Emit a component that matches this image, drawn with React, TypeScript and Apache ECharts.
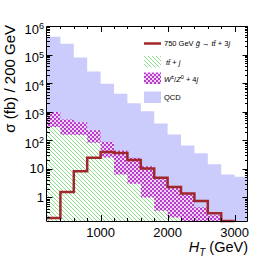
import React, { useEffect, useRef } from "react";
import * as echarts from "echarts";

// Bin lower edges (GeV), 200 GeV wide bins
const binStarts = [200, 400, 600, 800, 1000, 1200, 1400, 1600, 1800, 2000, 2200, 2400, 2600, 2800, 3000];
const binWidth = 200;
// cross sections (fb / 200 GeV) – visible tops of each filled histogram
const qcd = [4.2e5, 2.4e5, 7.9e4, 2.55e4, 9.5e3, 4.3e3, 2.0e3, 1.03e3, 390, 160, 66, 35, 14.5, 6.4, 5.3];
const wz = [980, 530, 430, 225, 89, 44, 24.5, 12.3, 4.3, 2.45, 1.3, 0.45, 0.24, 0.01, 0.01];
const ttj = [295, 158, 150, 82, 25, 6.4, 3.0, 1.0, 0.34, 0.2, 0.01, 0.01, 0.01, 0.01, 0.01];
const signal = [0.19, 1.55, 8.3, 24.5, 38.6, 36, 20.3, 10.4, 4.9, 2.3, 1.37, 0.75, 0.28, 0.15];

const yTickLabels = [1, 10, 100, 1e3, 1e4, 1e5, 1e6];
const xTickLabels = [1000, 2000, 3000];

const X_MIN = 200;
const X_MAX = 3200;
const Y_MIN = 0.15;
const Y_MAX = 1e6;

const FONT = "'Liberation Sans', Arial, Helvetica, sans-serif";
const RED = "#a0282c";
const LAVENDER = "#cbcbfc";

function stepData(vals: number[]) {
  const d: number[][] = vals.map((v, i) => [binStarts[i], v]);
  d.push([binStarts[vals.length - 1] + binWidth, vals[vals.length - 1]]);
  return d;
}

function makeHatch() {
  const n = 4;
  const c = document.createElement("canvas");
  c.width = n;
  c.height = n;
  const ctx = c.getContext("2d")!;
  ctx.fillStyle = "#ffffff";
  ctx.fillRect(0, 0, n, n);
  ctx.fillStyle = "#8ade8a";
  for (let i = 0; i < n; i++) ctx.fillRect(i, i, 1, 1);
  return { image: c.toDataURL(), repeat: "repeat", imageWidth: n, imageHeight: n };
}

function makeChecker() {
  const c = document.createElement("canvas");
  c.width = 4;
  c.height = 4;
  const ctx = c.getContext("2d")!;
  ctx.fillStyle = "#eed4f2";
  ctx.fillRect(0, 0, 4, 4);
  ctx.fillStyle = "#b83ccc";
  ctx.fillRect(0, 0, 2, 2);
  ctx.fillRect(2, 2, 2, 2);
  return { image: c.toDataURL(), repeat: "repeat", imageWidth: 4, imageHeight: 4 };
}

export default function App() {
  const ref = useRef<HTMLDivElement>(null);
  useEffect(() => {
    if (!ref.current) return;
    const chart = echarts.init(ref.current, null, { renderer: "svg" });
    const hatch = makeHatch();
    const checker = makeChecker();

    // tick descriptors: [x, y, length, kind] kind 0 = y tick, 1 = x tick
    const ticks: number[][] = [];
    for (let n = -1; n <= 5; n++) {
      for (let k = 1; k <= 9; k++) {
        const v = k * Math.pow(10, n);
        if (v < Y_MIN || v > Y_MAX) continue;
        ticks.push([1000, v, k === 1 ? 5.5 : 3, 0]);
      }
    }
    ticks.push([1000, Y_MAX, 5.5, 0]);
    for (let x = X_MIN + binWidth; x < X_MAX; x += binWidth) {
      ticks.push([x, 1, x % 1000 === 0 ? 6 : 3, 1]);
    }

    const areaSeries = (name: string, vals: number[], color: any) => ({
      name,
      type: "line",
      step: "end",
      data: stepData(vals),
      showSymbol: false,
      symbol: "none",
      lineStyle: { width: 0, opacity: 0 },
      areaStyle: { color, opacity: 1, origin: "start" },
      silent: true,
    });

    const option: any = {
      animation: false,
      grid: { left: 47, top: 26, width: 201, height: 195, show: false },
      xAxis: {
        type: "value",
        min: X_MIN,
        max: X_MAX,
        interval: binWidth,
        axisLine: { show: false },
        axisTick: { show: false },
        splitLine: { show: false },
        axisLabel: {
          margin: 5,
          fontSize: 13,
          fontFamily: FONT,
          color: "#000",
          formatter: (v: number) => (xTickLabels.indexOf(v) >= 0 ? String(v) : ""),
        },
      },
      yAxis: {
        type: "log",
        min: Y_MIN,
        max: Y_MAX,
        axisLine: { show: false },
        axisTick: { show: false },
        splitLine: { show: false },
        axisLabel: {
          margin: 3,
          fontSize: 13,
          fontFamily: FONT,
          color: "#000",
          formatter: (v: number) => {
            const e = Math.round(Math.log10(v));
            const ok = yTickLabels.some((t) => Math.abs(t - v) / t < 1e-6);
            if (!ok) return "";
            if (e === 0) return "1";
            if (e === 1) return "10";
            return "{b|10}{s|" + e + "}";
          },
          rich: {
            b: { fontSize: 13, lineHeight: 14, padding: [6, 0, 0, 0], fontFamily: FONT, color: "#000" },
            s: { fontSize: 9, lineHeight: 10, padding: [5, 0, 5, 0], fontFamily: FONT, color: "#000" },
          },
        },
      },
      series: [
        areaSeries("QCD", qcd, LAVENDER),
        areaSeries("W/Z + 4j", wz, checker),
        areaSeries("tt + j", ttj, hatch),
        {
          name: "signal",
          type: "line",
          step: "end",
          data: stepData(signal),
          showSymbol: false,
          symbol: "none",
          clip: false,
          lineStyle: { width: 2.5, color: RED, join: "miter" },
          z: 5,
          silent: true,
        },
        {
          type: "custom",
          data: ticks,
          z: 10,
          silent: true,
          clip: false,
          renderItem: (params: any, api: any) => {
            const cs = params.coordSys;
            const len = api.value(2);
            const kind = api.value(3);
            const st = { stroke: "#000", lineWidth: 1 };
            if (kind === 0) {
              const p = api.coord([1000, api.value(1)]);
              const y = Math.round(p[1]) + 0.5;
              return {
                type: "group",
                children: [
                  { type: "line", shape: { x1: cs.x, y1: y, x2: cs.x + len, y2: y }, style: st },
                  { type: "line", shape: { x1: cs.x + cs.width - len, y1: y, x2: cs.x + cs.width, y2: y }, style: st },
                ],
              };
            }
            const p = api.coord([api.value(0), 1]);
            const x = Math.round(p[0]) + 0.5;
            return {
              type: "group",
              children: [
                { type: "line", shape: { x1: x, y1: cs.y + cs.height, x2: x, y2: cs.y + cs.height - len }, style: st },
                { type: "line", shape: { x1: x, y1: cs.y, x2: x, y2: cs.y + len }, style: st },
              ],
            };
          },
        },
      ],
      graphic: [
        {
          type: "rect",
          z: 100,
          shape: { x: 46.5, y: 26.5, width: 201, height: 195 },
          style: { fill: "none", stroke: "#000", lineWidth: 1 },
          silent: true,
        },
        // y-axis title
        {
          type: "text",
          x: 9,
          y: 25,
          rotation: Math.PI / 2,
          style: {
            text: "σ (fb) / 200 GeV",
            font: "15px " + FONT,
            fill: "#000",
            align: "right",
            verticalAlign: "middle",
          },
        },
        // x-axis title
        {
          type: "text",
          x: 248,
          y: 247,
          style: {
            text: "{i|H}{sub|T}{n| (GeV)}",
            align: "right",
            verticalAlign: "middle",
            rich: {
              i: { fontSize: 14.5, lineHeight: 16, fontStyle: "italic", fontFamily: FONT, fill: "#000", verticalAlign: "top" },
              n: { fontSize: 14.5, lineHeight: 16, fontFamily: FONT, fill: "#000", verticalAlign: "top" },
              sub: { fontSize: 10, lineHeight: 10, padding: [10, 0, 0, 0], fontStyle: "italic", fontFamily: FONT, fill: "#000" },
            },
          },
        },
        // legend
        {
          type: "line",
          shape: { x1: 144, y1: 43.5, x2: 161, y2: 43.5 },
          style: { stroke: RED, lineWidth: 2.5 },
        },
        {
          type: "text",
          x: 164,
          y: 43.5,
          style: {
            text: "{n|750 GeV }{i|g\u0303}{n| \u2192 }{i|tt\u0304}{n| + 3}{i|j}",
            verticalAlign: "middle",
            rich: {
              n: { fontSize: 7.5, fontFamily: FONT, fill: "#000" },
              i: { fontSize: 7.5, fontStyle: "italic", fontFamily: FONT, fill: "#000" },
            },
          },
        },
        {
          type: "rect",
          shape: { x: 144, y: 56, width: 17, height: 11.5 },
          style: { fill: hatch },
        },
        {
          type: "text",
          x: 166,
          y: 62,
          style: {
            text: "{i|tt\u0304}{n| + }{i|j}",
            verticalAlign: "middle",
            rich: {
              n: { fontSize: 7.5, fontFamily: FONT, fill: "#000" },
              i: { fontSize: 7.5, fontStyle: "italic", fontFamily: FONT, fill: "#000" },
            },
          },
        },
        {
          type: "rect",
          shape: { x: 144, y: 72.5, width: 17, height: 11.5 },
          style: { fill: checker },
        },
        {
          type: "text",
          x: 164,
          y: 78.5,
          style: {
            text: "{i|W}{s|\u00b1}{n|/}{i|Z}{s|0}{n| + 4}{i|j}",
            verticalAlign: "middle",
            rich: {
              n: { fontSize: 7.5, lineHeight: 9, fontFamily: FONT, fill: "#000", verticalAlign: "bottom" },
              i: { fontSize: 7.5, lineHeight: 9, fontStyle: "italic", fontFamily: FONT, fill: "#000", verticalAlign: "bottom" },
              s: { fontSize: 5.5, lineHeight: 6, fontFamily: FONT, fill: "#000", verticalAlign: "top" },
            },
          },
        },
        {
          type: "rect",
          shape: { x: 144, y: 91.5, width: 17, height: 11.5 },
          style: { fill: LAVENDER },
        },
        {
          type: "text",
          x: 164,
          y: 97.5,
          style: {
            text: "QCD",
            font: "7.5px " + FONT,
            fill: "#000",
            verticalAlign: "middle",
          },
        },
      ],
    };
    chart.setOption(option);
    return () => chart.dispose();
  }, []);
  return <div ref={ref} style={{ width: 276, height: 262, position: "absolute", left: 0, top: 0 }} />;
}
